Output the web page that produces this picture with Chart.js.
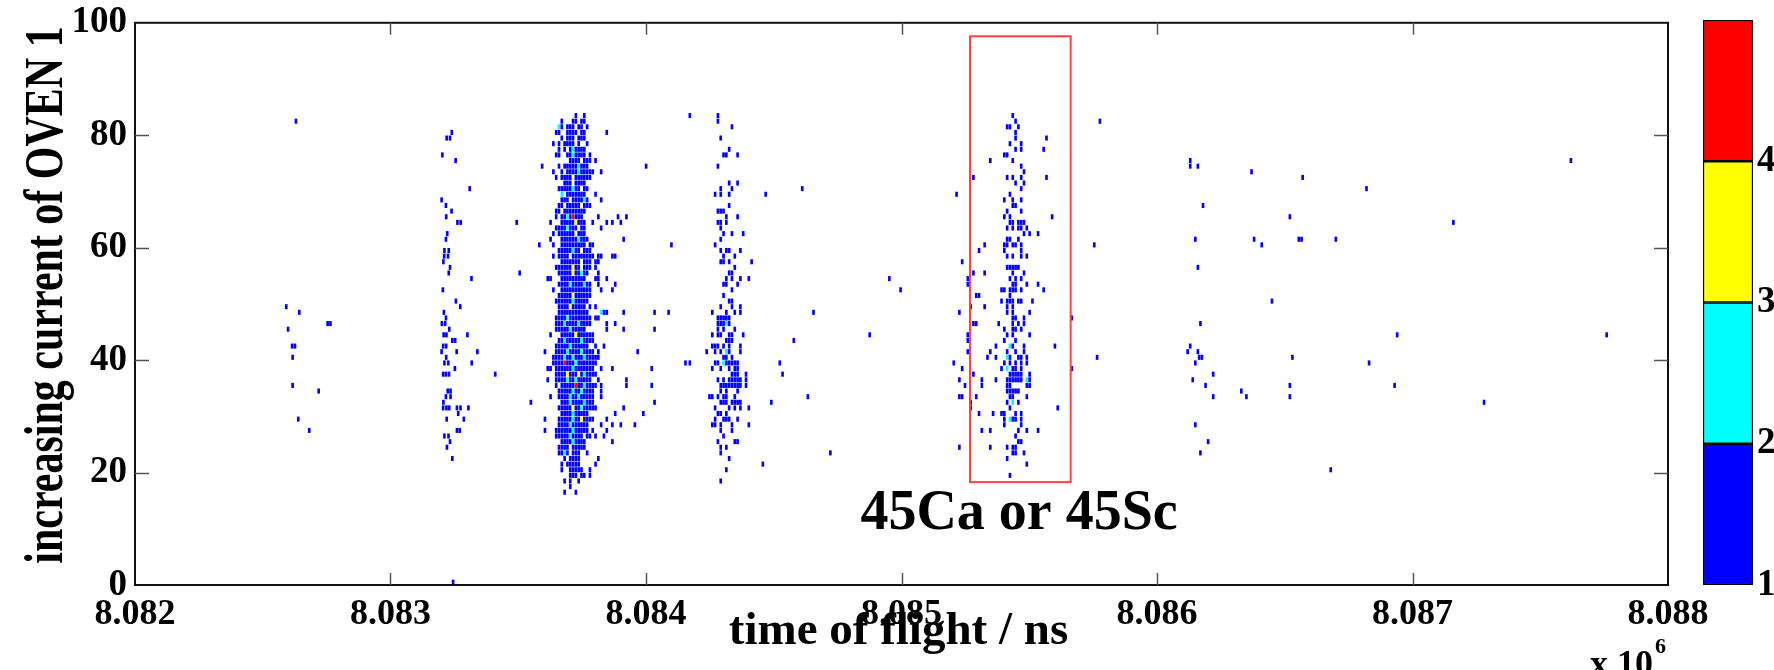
<!DOCTYPE html>
<html>
<head>
<meta charset="utf-8">
<title>time of flight vs oven current</title>
<script src="https://cdn.jsdelivr.net/npm/chart.js@4.4.0/dist/chart.umd.min.js"></script>
<style>
  html, body { margin: 0; padding: 0; background: #fff; }
  #wrap { position: relative; width: 1774px; height: 670px; overflow: hidden; }
  #main { position: absolute; left: 0; top: 0; }
  #bar { position: absolute; left: 1680px; top: 0; }
</style>
</head>
<body>
<div id="wrap">
  <canvas id="main" width="1774" height="670"></canvas>
  <canvas id="bar" width="94" height="670"></canvas>
</div>
<script>
// axes
const xTicks = [8.082, 8.083, 8.084, 8.085, 8.086, 8.087, 8.088];
const yTicks = [0, 20, 40, 60, 80, 100];
const binWidth = 0.000011;   // time-of-flight bin (x 10^6 ns)

// colour scale: counts 1..4
const bandEdges = [1, 2, 3, 4, 5];
const bandColors = ["#0000ff", "#00ffff", "#ffff00", "#ff0000"];

// main peak near 8.0837: [row, first column, cells]  ('.' empty, digit = counts)
const peakAStart = 8.0835;
const peakARows = [
  [83, 20, "1..1"],
  [82, 15, "1...11.11"],
  [81, 14, "21.111.11.1"],
  [80, 13, "11..1111.11.......1"],
  [79, 15, "1.111.111"],
  [78, 12, "1.1.1111.1..1"],
  [77, 14, "1.1.121111"],
  [76, 13, "11..1121111.1"],
  [75, 18, "1111.111.1"],
  [74, 8, "1.....1.111112111....................1"],
  [73, 12, "1..1.1111211111..1"],
  [72, 13, "1.1111.111111"],
  [71, 16, "111.1111"],
  [70, 14, "11111211.11"],
  [69, 15, "2.1111111...1"],
  [68, 15, "111.111121....1"],
  [67, 14, "11.11111.111"],
  [66, 13, "11.11111111"],
  [65, 13, "1.11214111.....1......1..1"],
  [64, 11, "1...111113111..1....1.1..1"],
  [63, 13, "11112111.11.....1"],
  [62, 12, "1.111111.111"],
  [61, 11, "1...1111112111............1"],
  [60, 7, "1....1..111111111.11...........................1"],
  [59, 14, "11111211.111"],
  [58, 12, "1.1111.11111111.11...11"],
  [57, 15, "1111111.111.11"],
  [56, 13, "111111311.111.1"],
  [55, 0, "1.............11111311211...1"],
  [54, 10, "11...111111111...11..1"],
  [53, 14, "111121111211..1.....1"],
  [52, 12, "1..11111111111...1...1"],
  [51, 14, "11111.111111"],
  [50, 13, "111111211111"],
  [49, 14, "1111311111.1.1"],
  [48, 14, "11111111111....211.....1..........1....1"],
  [47, 13, "1111211111111.11"],
  [46, 13, "1112111121111.....1..1"],
  [45, 13, "11111211111.......1.....1..........1"],
  [44, 11, "1...111113111111"],
  [43, 14, "1121111121111"],
  [42, 13, "111112111111..1..1"],
  [41, 9, "1...11112111121111.1.............1"],
  [40, 12, "11112112111211111"],
  [39, 12, "1111411121111111...............................1"],
  [38, 10, "11.11111121111111..1...1.............1"],
  [37, 13, "111131113121111"],
  [36, 10, "1..1111211211111..1.........1"],
  [35, 13, "1.1111141121111.1........1........1"],
  [34, 14, "1111121121111..1"],
  [33, 11, "1..1111211211111..1"],
  [32, 4, "1..........111211112111.....................1"],
  [31, 14, "11111311211111.........1"],
  [30, 15, "1111211111.........1.........1"],
  [29, 9, "1....1111121131111....1"],
  [28, 14, "11112111111....1...1..1....1"],
  [27, 9, "1...111111211111.1....1"],
  [26, 13, "1111121111.11.1..1"],
  [25, 15, "111121111.........1"],
  [24, 14, "1111.11111"],
  [23, 14, "1121.111..1"],
  [22, 16, "1.1111......1"],
  [21, 15, "1.11111.....1"],
  [20, 15, "1..11111..1"],
  [19, 18, "111.11.1"],
  [18, 16, "1.1..1"],
  [17, 18, "1"],
  [16, 16, "1...1"]
];

// peak near 8.0843: [row, columns]  (column or [column, counts])
const peakCStart = 8.0841;
const peakCRows = [
  [83, [6, 16]], [82, [16]], [81, [21]], [79, [17]], [77, [20]], [76, [18, 19, 23]],
  [74, [16]], [71, [20, 23]], [70, [17, 21, 46]], [69, [15, 17, 20, 33]], [67, [20]],
  [66, [16, 17, 18]], [65, [19, 23]], [64, [16, 17, 19]], [63, [17]], [62, [18, 21, 25]],
  [61, [17]], [60, [15]], [59, [17, 19, 20, 24]], [58, [18, 22]], [57, [17, 18, 20, 28]],
  [56, [22]], [55, [20, 21]], [54, [19, 21, 24, 27, 77]], [53, [18, 19, 23]], [52, [21, 81]],
  [51, [18]], [50, [20, 21]], [49, [17, 21, 24]], [48, [14, 19, 22, 24, 50]],
  [47, [16, 17, 18, 19, 20]], [46, [16, 17, 18, [19, 2], 20]], [45, [16, 18, 22]],
  [44, [14, 16, 17, 20, 21, 25, 70]], [43, [19, 20, 21, 43]], [42, [14, 15, 16, 18, 20, 24]],
  [41, [12, 15, 17, [19, 2], 20, 24]], [40, [18, 19, 21]],
  [39, [6, 15, 16, [18, 2], 19, 20, 21, 22, 23, 38]], [38, [14, 17, 20, 22, 23]],
  [37, [21, 22, 23, 26, 39]], [36, [16, 18, 20, 21, 22, 23, 24, 26]],
  [35, [17, 18, 19, 20, 21, 22, 23, 24, 26]], [34, [17, 19, 23]],
  [33, [13, 14, 16, 18, 19, 22, 48]], [32, [17, 18, 19, 21, 22, 23, 24, 35]],
  [31, [15, 20, 22, 24, 27]], [30, [16, 17, 19]], [29, [15, 18, 19, 20, 23]],
  [28, [14, 15, 17, 21, 27]], [27, [17, 21]], [26, [18]], [25, [16, 22, 23]],
  [24, [17, 19]], [23, [17, 56]], [22, [20]], [21, [32]], [20, [19]], [18, [17]]
];

// boxed peak near 8.0854 (45Ca or 45Sc)
const peakDStart = 8.0851;
const peakDRows = [
  [83, [30]], [82, [31, 61]], [81, [28, 29, 32]], [80, [31]], [79, [31, 42]], [78, [29, 33]],
  [77, [31, 33, 41]], [76, [27, 28]], [75, [22, 30]], [74, [33]], [73, [34]],
  [72, [16, 28, 30, 33, 42]], [71, [31, 34]], [70, [33]], [69, [10, 29]], [68, [27, 30, 33]],
  [67, [30, 31]], [66, [28, 33]], [65, [27, 29, 44]], [64, [29, 30, 32, 33, 34]],
  [63, [28, 30, 32, 33, 35]], [62, [34, 36, 39]], [61, [28, 29, 32]],
  [60, [20, 27, 28, 30, 31, 33, 59]], [59, [18, 27, 33]], [58, [28, 30, 33, 35]], [57, [12]],
  [56, [28, 29, 30, 31, 32]], [55, [16, 20, 30, 34]], [54, [14, 29, 31, 33]],
  [53, [14, 30, 31, 35, 39]], [52, [26, 27, 29, 30, 31, 33, 41]], [51, [17, 18, 29]],
  [50, [26, 28, 29, 30, 32, 33, 37]], [49, [15, 20, 28, 30]], [48, [11, 28, 30, 36]],
  [47, [30, 31, 34, 51]], [46, [16, 17, 25, 30, 32, 34]], [45, [27, 30, 31, 33]],
  [44, [14, 28, 30, 36]], [43, [14, 27, 31]], [42, [24, [29, 2], 30, 34, 45]],
  [41, [14, 22, 28, 31, 34]], [40, [21, 24, [28, 2], 29, 32, 33, 35, 60]],
  [39, [9, 27, 29, 31, 33, 35]], [38, [12, 26, [28, 2], 30, 31, 33, 51]],
  [37, [16, 29, 30, 31, 32, 33, 36]], [36, [11, 19, 24, 28, 29, 30, 31, 32, 33, [35, 2], 36]],
  [35, [13, 19, 28, 29, 35, 36]], [34, [28, 29, 30, 31, 32]], [33, [11, 12, 17, 29, 30, 35]],
  [32, [15, 28, [30, 2], 32]], [31, [15, 29, 46]], [30, [18, 23, 26, 27, 31, 33]],
  [29, [27, [29, 2], 30, 31, 33]], [28, [27, 33]], [27, [19, 22, 32, 35, 39]], [26, [31]],
  [25, [32, 33]], [24, [11, 22, 28, 30, 31]], [23, [30, 31, 34]], [22, [28]], [21, [35]],
  [19, [29]]
];

// single hits: [time of flight, row]
const farLeftHits = [
  [8.08263, 82], [8.082592, 49], [8.082643, 48], [8.082754, 46], [8.082765, 46],
  [8.082599, 45], [8.082615, 42], [8.082626, 42], [8.082617, 40], [8.082617, 35],
  [8.082719, 34], [8.082639, 29], [8.082682, 27]
];
const peakBHits = [
  [8.08324, 80], [8.08322, 79], [8.083233, 79], [8.083203, 76], [8.083255, 75], [8.08331, 70],
  [8.0832, 68], [8.083217, 67], [8.083239, 66], [8.083218, 65], [8.083262, 64], [8.083275, 64],
  [8.083494, 64], [8.083222, 62], [8.083217, 61], [8.083211, 59], [8.083228, 59], [8.08321, 58],
  [8.083225, 58], [8.083207, 57], [8.083233, 56], [8.083228, 55], [8.083317, 54], [8.083205, 52],
  [8.083256, 50], [8.083273, 49], [8.083209, 48], [8.083217, 47], [8.083201, 46], [8.083214, 46],
  [8.08323, 45], [8.083208, 44], [8.083219, 44], [8.083301, 44], [8.083242, 43], [8.083253, 43],
  [8.083206, 42], [8.083218, 42], [8.0832, 41], [8.083259, 41], [8.08334, 41], [8.083218, 40],
  [8.083211, 39], [8.083226, 39], [8.083318, 39], [8.083252, 38], [8.083206, 37], [8.083217, 37],
  [8.083229, 37], [8.08341, 37], [8.083224, 34], [8.083235, 34], [8.083217, 33], [8.083235, 33],
  [8.083207, 32], [8.083206, 31], [8.083219, 31], [8.08323, 31], [8.08326, 31], [8.083274, 31],
  [8.083305, 31], [8.083265, 30], [8.08322, 29], [8.083287, 29], [8.08326, 27], [8.083271, 27],
  [8.083211, 26], [8.083227, 26], [8.083233, 25], [8.083221, 24], [8.083242, 22], [8.083245, 0]
];
const rightHits = [
  [8.08613, 75], [8.08613, 74], [8.08616, 74], [8.08762, 75], [8.08637, 73], [8.08657, 72],
  [8.08682, 70], [8.08618, 67], [8.08652, 65], [8.08716, 64], [8.08615, 61], [8.08638, 61],
  [8.086555, 61], [8.086566, 61], [8.0867, 61], [8.08641, 60], [8.08616, 56], [8.08645, 50],
  [8.08617, 46], [8.08694, 44], [8.08776, 44], [8.08613, 42], [8.08612, 41], [8.08616, 41],
  [8.086165, 40], [8.086176, 40], [8.08653, 40], [8.08615, 39], [8.08683, 39], [8.08622, 37],
  [8.08614, 36], [8.08619, 35], [8.08652, 35], [8.08693, 35], [8.08633, 34], [8.08622, 33],
  [8.08635, 33], [8.08652, 33], [8.08728, 32], [8.08615, 28], [8.0862, 25], [8.08617, 23],
  [8.08668, 20]
];

// marked window
const boxX = [8.085268, 8.085662];
const boxY = [18.3, 97.6];

const FONT = "'Liberation Serif', 'Times New Roman', serif";

function buildCells() {
  const cells = [];
  peakARows.forEach(([row, first, text]) => {
    [...text].forEach((ch, i) => {
      if (ch === ".") return;
      cells.push({ x: peakAStart + (first + i + 0.5) * binWidth, y: row, count: Number(ch) });
    });
  });
  [[peakCStart, peakCRows], [peakDStart, peakDRows]].forEach(([start, rows]) => {
    rows.forEach(([row, cols]) => {
      cols.forEach((c) => {
        const col = Array.isArray(c) ? c[0] : c;
        const count = Array.isArray(c) ? c[1] : 1;
        cells.push({ x: start + (col + 0.5) * binWidth, y: row, count });
      });
    });
  });
  [farLeftHits, peakBHits, rightHits].forEach((list) => {
    list.forEach(([x, y, count]) => cells.push({ x, y, count: count || 1 }));
  });
  return cells;
}

const heatmapPlugin = {
  id: "heatmap",
  afterDatasetsDraw(chart) {
    const { ctx, chartArea: a, scales: { x, y } } = chart;

    ctx.save();
    ctx.beginPath();
    ctx.rect(a.left, a.top, a.right - a.left, a.bottom - a.top);
    ctx.clip();
    chart.data.datasets[0].data.forEach((c) => {
      const x0 = x.getPixelForValue(c.x - binWidth * 0.47);
      const x1 = x.getPixelForValue(c.x + binWidth * 0.47);
      const yTop = y.getPixelForValue(c.y + 0.95);
      const yBot = y.getPixelForValue(c.y + 0.05);
      ctx.fillStyle = bandColors[c.count - 1];
      ctx.fillRect(x0, yTop, x1 - x0, yBot - yTop);
    });

    // red window
    ctx.strokeStyle = "#ff4040";
    ctx.lineWidth = 2;
    const bx0 = x.getPixelForValue(boxX[0]), bx1 = x.getPixelForValue(boxX[1]);
    const by0 = y.getPixelForValue(boxY[1]), by1 = y.getPixelForValue(boxY[0]);
    ctx.strokeRect(bx0, by0, bx1 - bx0, by1 - by0);
    ctx.restore();

    // frame
    ctx.save();
    ctx.strokeStyle = "#111";
    ctx.lineWidth = 2;
    ctx.strokeRect(a.left, a.top, a.right - a.left, a.bottom - a.top);

    // inward tick marks
    ctx.strokeStyle = "#555";
    ctx.lineWidth = 1.5;
    ctx.beginPath();
    xTicks.slice(1, -1).forEach((v) => {
      const px = Math.round(x.getPixelForValue(v)) + 0.5;
      ctx.moveTo(px, a.bottom); ctx.lineTo(px, a.bottom - 12);
      ctx.moveTo(px, a.top); ctx.lineTo(px, a.top + 12);
    });
    yTicks.slice(1, -1).forEach((v) => {
      const py = Math.round(y.getPixelForValue(v)) + 0.5;
      ctx.moveTo(a.left, py); ctx.lineTo(a.left + 14, py);
      ctx.moveTo(a.right, py); ctx.lineTo(a.right - 14, py);
    });
    ctx.stroke();

    ctx.fillStyle = "#000";
    // annotation
    ctx.font = `bold 56px ${FONT}`;
    ctx.textAlign = "center";
    ctx.textBaseline = "alphabetic";
    ctx.fillText("45Ca or 45Sc", x.getPixelForValue(8.08546), 529);

    // x title
    ctx.font = `bold 47px ${FONT}`;
    ctx.fillText("time of flight / ns", (a.left + a.right) / 2 - 3, 644);

    // exponent
    ctx.font = `bold 36px ${FONT}`;
    ctx.textAlign = "right";
    ctx.fillText("x 10", a.right - 15, 675);
    ctx.font = `bold 22px ${FONT}`;
    ctx.textAlign = "left";
    ctx.fillText("6", a.right - 13, 653);

    // y title (drawn tall, as in the original)
    ctx.translate(62, 295);
    ctx.rotate(-Math.PI / 2);
    ctx.scale(1, 1.33);
    ctx.font = `bold 42px ${FONT}`;
    ctx.textAlign = "center";
    ctx.fillText("increasing current of OVEN 1", 0, 0);
    ctx.restore();
  }
};

const tickFont = { family: FONT, size: 36, weight: "bold", lineHeight: 1 };
const sideTickFont = { family: FONT, size: 37, weight: "bold", lineHeight: 0.8 };

new Chart(document.getElementById("main"), {
  type: "scatter",
  data: {
    datasets: [{ label: "counts", data: buildCells(), pointRadius: 0, pointHoverRadius: 0 }]
  },
  options: {
    responsive: false,
    animation: false,
    devicePixelRatio: 1,
    layout: { padding: { left: 0, right: 106, top: 20, bottom: 0 } },
    plugins: { legend: { display: false }, tooltip: { enabled: false } },
    scales: {
      x: {
        type: "linear",
        min: xTicks[0],
        max: xTicks[xTicks.length - 1],
        afterBuildTicks: (s) => { s.ticks = xTicks.map((v) => ({ value: v })); },
        afterFit: (s) => { s.height = 85; },
        ticks: { callback: (v) => v.toFixed(3), font: tickFont, color: "#000", padding: 12, maxRotation: 0, autoSkip: false },
        grid: { display: false, drawTicks: false },
        border: { display: false }
      },
      y: {
        min: yTicks[0],
        max: yTicks[yTicks.length - 1],
        afterBuildTicks: (s) => { s.ticks = yTicks.map((v) => ({ value: v })); },
        afterFit: (s) => { s.width = 135; },
        ticks: { font: sideTickFont, color: "#000", padding: 8 },
        grid: { display: false, drawTicks: false },
        border: { display: false }
      }
    }
  },
  plugins: [heatmapPlugin]
});

// colour bar
new Chart(document.getElementById("bar"), {
  type: "bar",
  data: {
    labels: [""],
    datasets: bandColors.map((c, i) => ({
      data: [[bandEdges[i], bandEdges[i + 1]]],
      backgroundColor: c,
      borderColor: "#000",
      borderWidth: 1.5,
      borderSkipped: false,
      grouped: false,
      barPercentage: 1,
      categoryPercentage: 1
    }))
  },
  options: {
    responsive: false,
    animation: false,
    devicePixelRatio: 1,
    layout: { padding: { left: 23, right: 0, top: 20, bottom: 85 } },
    plugins: { legend: { display: false }, tooltip: { enabled: false } },
    scales: {
      x: { display: false },
      y: {
        position: "right",
        min: bandEdges[0],
        max: bandEdges[bandEdges.length - 1],
        afterBuildTicks: (s) => { s.ticks = bandEdges.slice(0, -1).map((v) => ({ value: v })); },
        afterFit: (s) => { s.width = 21; },
        ticks: { font: sideTickFont, color: "#000", padding: 4 },
        grid: { display: false, drawTicks: false },
        border: { display: false }
      }
    }
  }
});
</script>
</body>
</html>
